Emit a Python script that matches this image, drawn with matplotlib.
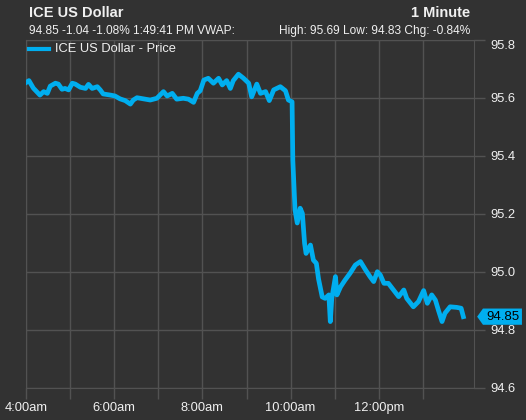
import matplotlib.pyplot as plt
import matplotlib.transforms as mtransforms
from matplotlib.patches import Polygon

plt.rcParams['font.family'] = ['Liberation Sans', 'DejaVu Sans']

# Price trace (time, price)
TIMES = ["4:00", "4:04", "4:10", "4:19", "4:24", "4:29", "4:33", "4:40", "4:44", "4:49",
         "4:53", "4:58", "5:03", "5:07", "5:14", "5:21", "5:25", "5:30", "5:37", "5:41",
         "5:45", "5:55", "6:01", "6:08", "6:15", "6:22", "6:26", "6:31", "6:40", "6:49",
         "6:58", "7:07", "7:12", "7:19", "7:25", "7:34", "7:41", "7:48", "7:53", "7:57",
         "8:02", "8:08", "8:15", "8:22", "8:27", "8:33", "8:38", "8:42", "8:49", "8:56",
         "9:03", "9:07", "9:14", "9:19", "9:26", "9:31", "9:37", "9:46", "9:53", "9:57",
         "10:02", "10:03", "10:06", "10:09", "10:13", "10:16", "10:19", "10:21", "10:27", "10:31",
         "10:35", "10:38", "10:43", "10:47", "10:52", "10:54", "10:56", "11:01", "11:03", "11:08",
         "11:14", "11:21", "11:28", "11:35", "11:42", "11:48", "11:53", "11:58", "12:02", "12:07",
         "12:13", "12:20", "12:27", "12:34", "12:38", "12:47", "12:54", "13:01", "13:06", "13:12",
         "13:17", "13:21", "13:26", "13:30", "13:37", "13:46", "13:52", "13:55"]
PRICES = [95.653, 95.660, 95.634, 95.610, 95.622, 95.616, 95.641, 95.651, 95.648, 95.630,
          95.633, 95.628, 95.651, 95.648, 95.637, 95.633, 95.647, 95.633, 95.639, 95.628,
          95.614, 95.610, 95.607, 95.597, 95.591, 95.579, 95.593, 95.601, 95.597, 95.593,
          95.599, 95.622, 95.607, 95.616, 95.596, 95.599, 95.596, 95.585, 95.616, 95.625,
          95.662, 95.668, 95.651, 95.668, 95.645, 95.660, 95.633, 95.660, 95.682, 95.668,
          95.651, 95.604, 95.648, 95.616, 95.622, 95.591, 95.628, 95.639, 95.625, 95.593,
          95.587, 95.386, 95.214, 95.169, 95.220, 95.202, 95.099, 95.064, 95.093, 95.041,
          95.030, 94.976, 94.914, 94.909, 94.921, 94.829, 94.909, 94.984, 94.921, 94.949,
          94.972, 94.996, 95.024, 95.036, 95.007, 94.984, 94.967, 95.001, 94.990, 94.961,
          94.961, 94.938, 94.915, 94.938, 94.909, 94.880, 94.898, 94.936, 94.892, 94.921,
          94.903, 94.869, 94.829, 94.858, 94.880, 94.878, 94.875, 94.846]

Y_TICKS = [94.6, 94.8, 95.0, 95.2, 95.4, 95.6, 95.8]
X_LABELS = ["4:00am", "", "6:00am", "", "8:00am", "", "10:00am", "", "12:00pm", ""]
LAST_PRICE = "94.85"

BG = "#323232"
GRID = "#525252"
BLUE = "#00aeef"
TXT = "#f0f0f0"


def toMinutes(t):
    h, m = t.split(":")
    return (int(h) - 4) * 60 + int(m)


xs = [toMinutes(t) for t in TIMES]

fig = plt.figure(figsize=(5.26, 4.20), dpi=100, facecolor=BG)
ax = fig.add_axes([26 / 526, 32 / 420, 448 / 526, 348 / 420], facecolor=BG)

ax.plot(xs, PRICES, color=BLUE, lw=3.4, solid_joinstyle="round", zorder=3)

ax.set_xlim(0, 609.5)
ax.set_ylim(94.6, 95.8)
ax.set_xticks([i * 60 for i in range(len(X_LABELS))])
ax.set_xticklabels(X_LABELS)
ax.set_yticks(Y_TICKS)
ax.set_yticklabels(["%.1f" % v for v in Y_TICKS])
ax.yaxis.tick_right()
ax.grid(True, color=GRID, lw=1)
ax.tick_params(axis="both", colors=GRID, labelcolor=TXT, labelsize=9.3, length=8, width=1)
ax.tick_params(axis="x", pad=2)
ax.tick_params(axis="y", pad=4)
for sp in ax.spines.values():
    sp.set_color(GRID)
ax.yaxis.get_majorticklabels()[-1].set_va("top")

# Header texts
fig.text(29 / 526, 1 - 13 / 420, "ICE US Dollar", color=TXT, fontsize=10.5,
         fontweight="bold", va="center", ha="left")
fig.text(470 / 526, 1 - 13 / 420, "1 Minute", color=TXT, fontsize=10.5,
         fontweight="bold", va="center", ha="right")
fig.text(29 / 526, 1 - 31 / 420, "94.85 -1.04 -1.08% 1:49:41 PM VWAP:", color=TXT,
         fontsize=8.6, va="center", ha="left")
fig.text(470 / 526, 1 - 31 / 420, "High: 95.69 Low: 94.83 Chg: -0.84%", color=TXT,
         fontsize=8.6, va="center", ha="right")

# Legend
fig.lines.append(plt.Line2D([29 / 526, 49 / 526], [1 - 49 / 420, 1 - 49 / 420],
                            color=BLUE, lw=3, transform=fig.transFigure))
fig.text(55 / 526, 1 - 49 / 420, "ICE US Dollar - Price", color=TXT, fontsize=9.3,
         va="center", ha="left")

# Last price tag
trans = mtransforms.blended_transform_factory(ax.transAxes, ax.transData)
last = PRICES[-1]
h = 0.028
tag = Polygon([(1.007, last), (1.020, last + h), (1.107, last + h),
               (1.107, last - h), (1.020, last - h)], closed=True,
              facecolor=BLUE, edgecolor="none", transform=trans, clip_on=False, zorder=5)
ax.add_patch(tag)
ax.text(1.064, last, LAST_PRICE, transform=trans, color="black", fontsize=9.5,
        ha="center", va="center", clip_on=False, zorder=6)

fig.savefig("out.png", dpi=100, facecolor=BG)
